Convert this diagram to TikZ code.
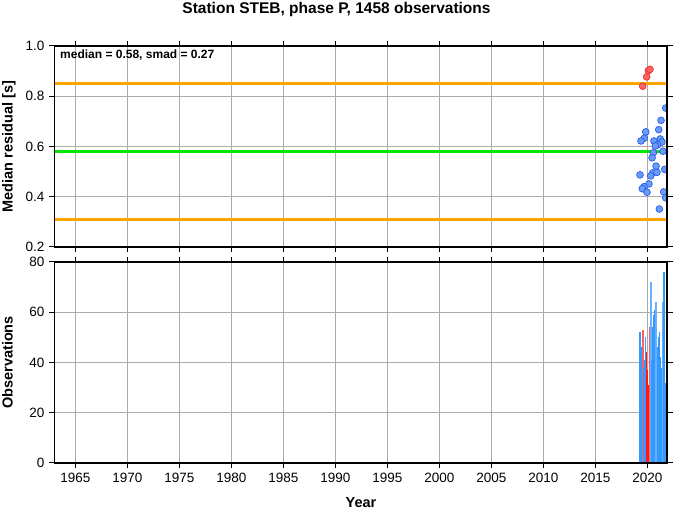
\documentclass[tikz,border=0pt]{standalone}
\usepackage{fontspec}
\setmainfont{Liberation Sans}
\usetikzlibrary{calc}
\definecolor{resblue}{HTML}{6A9CF5}
\definecolor{resblueline}{HTML}{2A5BE8}
\definecolor{resred}{HTML}{FF6464}
\definecolor{resredline}{HTML}{E83030}
\definecolor{obsblue}{HTML}{3399FF}
\definecolor{obsred}{HTML}{FF1A1A}
\definecolor{gridgray}{HTML}{ABABAB}
\definecolor{limorange}{HTML}{FFA500}
\definecolor{medgreen}{HTML}{00E600}
\def\respt[#1](#2,#3){\draw[#1] (#2,#3) circle (3.4pt);}
\def\obsbar[#1](#2,#3){\fill[#1] ({#2-0.075},0) rectangle ({#2+0.075},#3);}
\tikzset{
	gridline/.style={line width=0.8pt, color=gridgray},
	frameline/.style={line width=1.6pt, color=black},
	tickline/.style={line width=1pt, color=black},
	limitline/.style={line width=2.6pt, color=limorange},
	medianline/.style={line width=3.6pt, color=medgreen},
	ticklabel/.style={font=\fontsize{13.5}{15}\selectfont, inner sep=0pt},
	axislabel/.style={font=\fontsize{14.5}{16}\selectfont\bfseries, inner sep=0pt},
	goodpt/.style={draw=resblueline, fill=resblue, line width=0.7pt},
	badpt/.style={draw=resredline, fill=resred, line width=0.7pt},
	goodbar/.style={fill=obsblue},
	lightbar/.style={fill=obsblue!75},
	badbar/.style={fill=obsred},
	palebar/.style={fill=obsred!70}
}
\begin{document}
\begin{tikzpicture}[x=1pt,y=1pt]
		%%%%% START %%%%%
		\useasboundingbox (0,0) rectangle (673,511);
		
		\node[axislabel, font=\fontsize{15.5}{17}\selectfont\bfseries, anchor=base] (title) at (336.5,497.5) {Station STEB, phase P, 1458 observations};
		\node[axislabel, rotate=90, anchor=base] (reslabel) at (12.5,364.5) {Median residual [s]};
		\node[axislabel, rotate=90, anchor=base] (obslabel) at (12.5,148.5) {Observations};
		\node[axislabel, anchor=base] (yearlabel) at (361,3) {Year};
		
		% residual panel, x = year-2000
		\begin{scope}[shift={(439.3,213.75)}, x=10.4pt, y=251.25pt]
			\foreach \yr in {-35,-30,...,20} \draw[gridline] (\yr,0.2) -- (\yr,1.0);
			\foreach \v in {0.4,0.6,0.8} \draw[gridline] (-37,\v) -- (21.9,\v);
			
			\draw[limitline] (-37,0.85) -- (21.9,0.85);
			\draw[limitline] (-37,0.31) -- (21.9,0.31);
			\draw[medianline] (-37,0.58) -- (21.9,0.58);
			
			\begin{scope}
				\clip (-37,0.2) rectangle (21.9,1.0);
				\respt[badpt](19.56,0.840)
				\respt[badpt](19.94,0.877)
				\respt[badpt](20.10,0.902)
				\respt[badpt](20.26,0.907)
				
				\respt[goodpt](21.77,0.753)
				\respt[goodpt](21.32,0.704)
				\respt[goodpt](21.10,0.667)
				\respt[goodpt](19.85,0.658)
				\respt[goodpt](19.71,0.633)
				\respt[goodpt](19.39,0.622)
				\respt[goodpt](20.64,0.622)
				\respt[goodpt](21.25,0.630)
				\respt[goodpt](21.41,0.618)
				\respt[goodpt](21.00,0.607)
				\respt[goodpt](20.77,0.602)
				\respt[goodpt](21.51,0.581)
				\respt[goodpt](20.58,0.575)
				\respt[goodpt](20.46,0.555)
				\respt[goodpt](20.84,0.522)
				\respt[goodpt](21.67,0.509)
				\respt[goodpt](19.30,0.487)
				\respt[goodpt](20.52,0.495)
				\respt[goodpt](20.33,0.483)
				\respt[goodpt](20.93,0.497)
				\respt[goodpt](20.16,0.451)
				\respt[goodpt](19.68,0.440)
				\respt[goodpt](19.52,0.432)
				\respt[goodpt](19.97,0.418)
				\respt[goodpt](21.58,0.419)
				\respt[goodpt](21.77,0.396)
				\respt[goodpt](21.16,0.351)
			\end{scope}
			
			\draw[frameline] (-37,0.2) rectangle (21.9,1.0);
			\foreach \yr in {-35,-30,...,20} {
				\draw[tickline] (\yr,1.0) -- ++(0,5pt);
				\draw[tickline] (\yr,0.2) -- ++(0,-5pt);
			}
			\foreach \v [count=\i] in {0.2,0.4,0.6,0.8,1.0} {
				\draw[tickline] (-37,\v) -- ++(-5.5pt,0);
				\draw[tickline] (21.9,\v) -- ++(5.5pt,0);
				\node[ticklabel, anchor=east] (rtick\i) at ([xshift=-10pt]-37,\v) {\v};
			}
			
			\node[axislabel, font=\fontsize{12}{14}\selectfont\bfseries, anchor=base west] (stats) at (-36.47,0.950) {median = 0.58, smad = 0.27};
		\end{scope}
		
		% observation panel
		\begin{scope}[shift={(439.3,48)}, x=10.4pt, y=2.5125pt]
			\foreach \yr in {-35,-30,...,20} \draw[gridline] (\yr,0) -- (\yr,80);
			\foreach \n in {20,40,60} \draw[gridline] (-37,\n) -- (21.9,\n);
			
			\begin{scope}
				\clip (-37,0) rectangle (21.9,80);
				\obsbar[goodbar](19.32,52)
				\obsbar[goodbar](19.44,46)
				\obsbar[palebar](19.59,53)
				\obsbar[goodbar](19.68,38)
				\obsbar[goodbar](19.76,41)
				\obsbar[goodbar](19.84,50)
				\obsbar[badbar](19.93,44)
				\obsbar[badbar](20.02,37)
				\obsbar[badbar](20.12,31)
				\obsbar[goodbar](20.19,36)
				\obsbar[palebar](20.27,54)
				\obsbar[lightbar](20.38,72)
				\obsbar[goodbar](20.47,41)
				\obsbar[goodbar](20.56,54)
				\obsbar[goodbar](20.65,59)
				\obsbar[goodbar](20.75,61)
				\obsbar[lightbar](20.86,64)
				\obsbar[goodbar](20.97,46)
				\obsbar[goodbar](21.07,50)
				\obsbar[goodbar](21.17,52)
				\obsbar[goodbar](21.27,42)
				\obsbar[goodbar](21.38,38)
				\obsbar[lightbar](21.50,64)
				\obsbar[goodbar](21.63,76)
				\obsbar[goodbar](21.78,32)
			\end{scope}
			
			\draw[frameline] (-37,0) rectangle (21.9,80);
			\foreach \yr [count=\i] in {-35,-30,...,20} {
				\draw[tickline] (\yr,80) -- ++(0,5pt);
				\draw[tickline] (\yr,0) -- ++(0,-5pt);
				\pgfmathtruncatemacro\lab{2000+\yr}
				\node[ticklabel, anchor=north] (year\i) at ([yshift=-10pt]\yr,0) {\lab};
			}
			\foreach \n [count=\i] in {0,20,40,60,80} {
				\draw[tickline] (-37,\n) -- ++(-5.5pt,0);
				\draw[tickline] (21.9,\n) -- ++(5.5pt,0);
				\node[ticklabel, anchor=east] (otick\i) at ([xshift=-10pt]-37,\n) {\n};
			}
		\end{scope}
		
		%%%%% END %%%%%
\end{tikzpicture}
\end{document}
